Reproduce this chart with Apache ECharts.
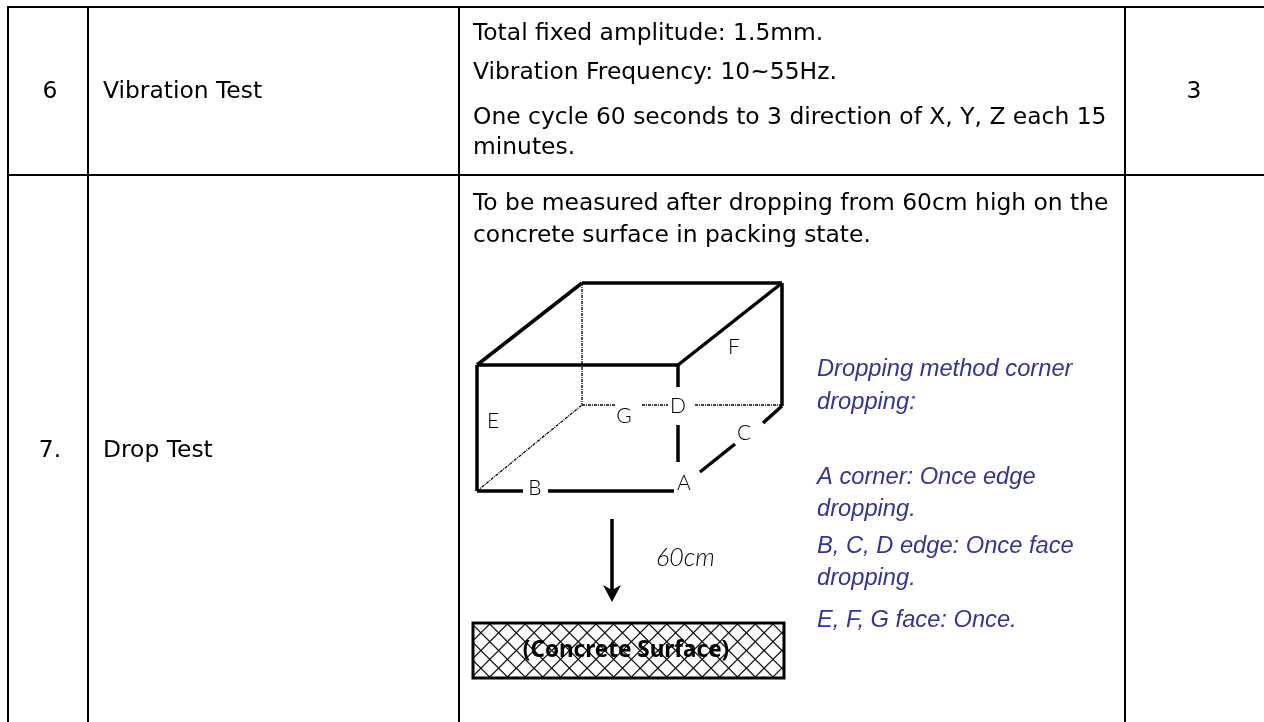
<!DOCTYPE html>
<html>
<head>
<meta charset="utf-8">
<title>Drop test table</title>
<style>
  html, body { margin: 0; padding: 0; background: #fff; }
  #main { width: 1264px; height: 722px; }
</style>
<script src="https://cdn.jsdelivr.net/npm/echarts@6/dist/echarts.min.js"></script>
</head>
<body>
<div id="main"></div>
<script>
// table rules, each one x1, y1, x2, y2 in picture units
var tableLines = [
  [7, 7, 1264, 7], [7, 175, 1264, 175],
  [8, 7, 8, 722], [88, 7, 88, 722], [459, 7, 459, 722], [1125, 7, 1125, 722]
];
// box outline
var boxSolid = [
  [582, 283, 782, 283], [477, 365, 582, 283], [678, 365, 782, 283], [477, 365, 678, 365],
  [477, 365, 477, 491], [477, 491, 523, 491], [548, 491, 674, 491],
  [678, 365, 678, 387], [678, 425, 678, 462], [782, 283, 782, 406],
  [700, 472, 735, 444], [763, 423, 782, 406]
];
var boxDotted = [
  [582, 283, 582, 405], [582, 405, 615, 405], [642, 405, 668, 405], [695, 405, 782, 405], [477, 491, 582, 405]
];
var arrowShaft = [[612, 519, 612, 592]];
var arrowHead = [[612, 602], [603, 585], [612, 590], [621, 585]];
var concreteBox = [[473, 623, 784, 678]];
// cell text: x, y, string
var cellLeft = [
  [103, 92, 'Vibration Test'],
  [103, 451, 'Drop Test'],
  [473, 34, 'Total fixed amplitude: 1.5mm.'],
  [473, 73, 'Vibration Frequency: 10~55Hz.'],
  [473, 118, 'One cycle 60 seconds to 3 direction of X, Y, Z each 15'],
  [473, 148, 'minutes.'],
  [473, 204, 'To be measured after dropping from 60cm high on the'],
  [473, 236, 'concrete surface in packing state.']
];
var cellCenter = [[50, 92, '6'], [1194, 92, '3'], [50, 451, '7.']];
var noteLines = [
  [817, 369, 'Dropping method corner'],
  [817, 402, 'dropping:'],
  [817, 477, 'A corner: Once edge'],
  [817, 509, 'dropping.'],
  [817, 546, 'B, C, D edge: Once face'],
  [817, 578, 'dropping.'],
  [817, 620, 'E, F, G face: Once.']
];
var faceLabels = [
  [734, 347, 'F'], [493, 421, 'E'], [624, 416, 'G'], [678, 406, 'D'],
  [744, 433, 'C'], [535, 488, 'B'], [684, 483, 'A']
];
var heightLabel = [[656, 558, '60cm']];
var concreteLabel = [[626, 651, '(Concrete Surface)']];

var chart = echarts.init(document.getElementById('main'), null, { renderer: 'canvas' });

// straight segments through the axes
function segSeries(data, width, color, dash) {
  return {
    type: 'custom', coordinateSystem: 'cartesian2d', clip: false, silent: true,
    data: data, encode: { x: [0, 2], y: [1, 3] },
    renderItem: function (params, api) {
      var a = api.coord([api.value(0), api.value(1)]);
      var b = api.coord([api.value(2), api.value(3)]);
      return {
        type: 'line',
        shape: { x1: a[0], y1: a[1], x2: b[0], y2: b[1] },
        style: { stroke: color, lineWidth: width, lineDash: dash || null, lineCap: 'butt', fill: null }
      };
    }
  };
}

// text placed through the axes
function textSeries(data, font, color, align) {
  return {
    type: 'custom', coordinateSystem: 'cartesian2d', clip: false, silent: true,
    data: data, encode: { x: 0, y: 1 },
    renderItem: function (params, api) {
      var p = api.coord([api.value(0), api.value(1)]);
      return {
        type: 'text',
        style: {
          x: p[0], y: p[1], text: data[params.dataIndex][2], font: font, fill: color,
          textAlign: align, textVerticalAlign: 'middle'
        }
      };
    }
  };
}

var series = [
  segSeries(tableLines, 2, '#000'),
  segSeries(boxSolid, 3.5, '#000'),
  segSeries(boxDotted, 1.3, '#000', [3, 1, 1, 1]),
  segSeries(arrowShaft, 3.5, '#000'),
  {
    // arrow head
    type: 'custom', coordinateSystem: 'cartesian2d', clip: false, silent: true,
    data: [0], encode: { x: [], y: [] },
    renderItem: function (params, api) {
      return {
        type: 'polygon',
        shape: { points: arrowHead.map(function (p) { return api.coord(p); }) },
        style: { fill: '#000' }
      };
    }
  },
  {
    // concrete block, cross hatch clipped to the frame
    type: 'custom', coordinateSystem: 'cartesian2d', clip: false, silent: true,
    data: concreteBox, encode: { x: [0, 2], y: [1, 3] },
    renderItem: function (params, api) {
      var a = api.coord([api.value(0), api.value(1)]);
      var b = api.coord([api.value(2), api.value(3)]);
      var w = b[0] - a[0], h = b[1] - a[1], kids = [];
      var step = 17.7;
      for (var c = -h; c < w + h; c += step) {
        kids.push({ type: 'line', shape: { x1: a[0] + c, y1: a[1], x2: a[0] + c + h, y2: b[1] }, style: { stroke: '#111', lineWidth: 1.2 } });
        kids.push({ type: 'line', shape: { x1: a[0] + c + h, y1: a[1], x2: a[0] + c, y2: b[1] }, style: { stroke: '#111', lineWidth: 1.2 } });
      }
      return {
        type: 'group',
        children: [
          { type: 'group', children: kids, clipPath: { type: 'rect', shape: { x: a[0], y: a[1], width: w, height: h } } },
          { type: 'rect', shape: { x: a[0], y: a[1], width: w, height: h }, style: { fill: null, stroke: '#000', lineWidth: 3 } }
        ]
      };
    }
  },
  textSeries(cellLeft, '23.4px "DejaVu Sans"', '#000', 'left'),
  textSeries(cellCenter, '23.4px "DejaVu Sans"', '#000', 'center'),
  textSeries(noteLines, 'italic 23.7px "Liberation Sans"', '#333399', 'left'),
  textSeries(faceLabels, '300 21px Lato', '#000', 'center'),
  textSeries(heightLabel, 'italic 300 25px Lato', '#000', 'left'),
  textSeries(concreteLabel, 'bold 22.5px "Noto Sans"', '#000', 'center')
];

chart.setOption({
  animation: false,
  backgroundColor: '#fff',
  grid: { left: 0, right: 0, top: 0, bottom: 0 },
  xAxis: { type: 'value', min: 0, max: 1264, show: false },
  yAxis: { type: 'value', min: 0, max: 722, inverse: true, show: false },
  series: series
});
</script>
</body>
</html>
